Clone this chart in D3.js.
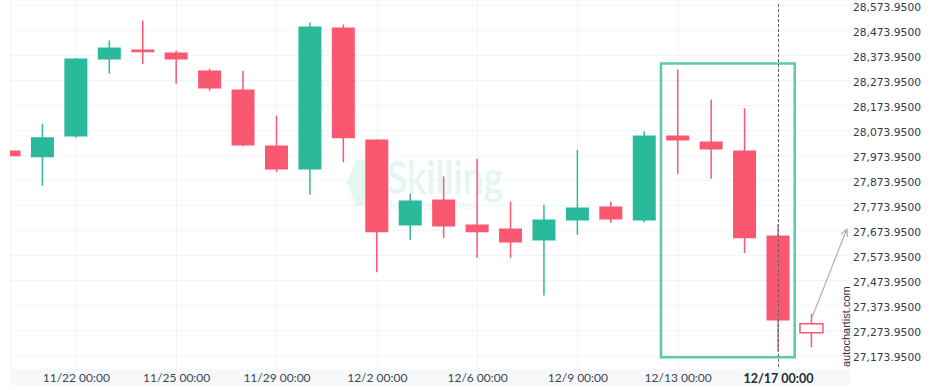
<!DOCTYPE html>
<html>
<head>
<meta charset="utf-8">
<style>
body { margin: 0; background: #fff; }
svg { display: block; }
.xaxis text { font-family: Lato, sans-serif; font-size: 12px; fill: #3b4655; }
.yaxis text { font-family: "DejaVu Sans", Verdana, sans-serif; font-size: 10.7px; fill: #2f3a45; }
.grid line { stroke: #f1f4f8; stroke-width: 1; }
</style>
</head>
<body>
<svg width="936" height="390"></svg>
<script src="https://d3js.org/d3.v7.min.js"></script>
<script>

// candle values, one per period (last one is the projected candle)
var opens  = [27991.95, 27965.00, 28047.95, 28355.95, 28395.95, 28383.95, 28311.95, 28235.95, 28011.95, 27915.95,
              28483.95, 28035.95, 27691.95, 27795.95, 27695.95, 27679.95, 27631.95, 27711.95, 27767.95, 27711.95,
              28051.95, 28027.95, 27991.95, 27651.95, 27298.75];
var highs  = [27991.95, 28098.75, 28361.95, 28431.95, 28511.95, 28391.95, 28319.95, 28310.75, 28131.95, 28503.95,
              28495.95, 28035.95, 27818.75, 27887.95, 27958.75, 27787.95, 27774.75, 27994.75, 27787.95, 28067.95,
              28315.95, 28195.95, 28161.00, 27695.95, 27338.75];
var lows   = [27969.00, 27850.75, 28043.00, 28298.75, 28338.75, 28258.75, 28230.75, 28009.00, 27905.00, 27814.75,
              27945.00, 27505.00, 27634.75, 27642.75, 27562.75, 27562.75, 27411.95, 27654.75, 27702.75, 27705.00,
              27898.75, 27878.75, 27581.00, 27189.00, 27205.00];
var closes = [27969.00, 28045.00, 28359.95, 28403.95, 28385.00, 28355.95, 28239.95, 28011.95, 27915.95, 28487.95,
              28041.00, 27665.00, 27791.95, 27687.95, 27665.00, 27623.95, 27715.95, 27763.95, 27715.95, 28051.95,
              28031.95, 27995.95, 27641.00, 27311.95, 27262.75];

var tickIndex  = [2, 5, 8, 11, 14, 17, 20, 23];
var tickLabels = ["11/22 00:00", "11/25 00:00", "11/29 00:00", "12/2 00:00", "12/6 00:00", "12/9 00:00", "12/13 00:00", "12/17 00:00"];

var yTicks = [27173.95, 27273.95, 27373.95, 27473.95, 27573.95, 27673.95, 27773.95, 27873.95,
              27973.95, 28073.95, 28173.95, 28273.95, 28373.95, 28473.95, 28573.95];

// pattern box (index span and price span), current bar, projection arrow
var boxIndex = [19.5, 23.5];
var boxPrice = [27165, 28340];
var currentIndex = 23;
var arrowIndex = [24, 25.06];
var arrowPrice = [27318, 27678];

var svg = d3.select("svg"),
    left = 10, right = 850, bottom = 369;

var x = d3.scaleLinear().domain([0, 23]).range([9, 778]);
var y = d3.scaleLinear().domain([27173.95, 28573.95]).range([355, 5]);

var green = "#2bb99b", red = "#fa5870";

svg.append("defs").append("clipPath").attr("id", "clip")
  .append("rect").attr("x", left).attr("y", 0).attr("width", right - left).attr("height", bottom);

// grid
var grid = svg.append("g").attr("class", "grid");
grid.selectAll(".h").data(yTicks).enter().append("line")
    .attr("x1", left).attr("x2", right)
    .attr("y1", function(d) { return Math.round(y(d)) + 0.5; })
    .attr("y2", function(d) { return Math.round(y(d)) + 0.5; });
grid.selectAll(".v").data(tickIndex).enter().append("line")
    .attr("y1", 0).attr("y2", bottom)
    .attr("x1", function(d) { return Math.round(x(d)) + 0.5; })
    .attr("x2", function(d) { return Math.round(x(d)) + 0.5; });
grid.append("line").attr("x1", left + 0.5).attr("x2", left + 0.5).attr("y1", 0).attr("y2", bottom);

// watermark
var wm = svg.append("g").attr("fill", "#e5f5f0");
wm.append("polygon").attr("points", "356,160 381,160 381,206 356,206 347,183");
wm.append("text").attr("x", 387).attr("y", 194)
    .attr("font-family", "Lato, sans-serif").attr("font-size", 46).attr("font-weight", 600)
    .attr("textLength", 116).attr("lengthAdjust", "spacingAndGlyphs").text("Skilling");
wm.append("text").attr("x", 388).attr("y", 209)
    .attr("font-family", "Lato, sans-serif").attr("font-size", 12)
    .attr("textLength", 93).text("Join. Trade. Grow.");

// x axis band
svg.append("rect").attr("x", left).attr("y", bottom).attr("width", right - left).attr("height", 16).attr("fill", "#f7f8fa");

var xAxis = svg.append("g").attr("class", "xaxis")
    .attr("transform", "translate(0," + bottom + ")")
    .call(d3.axisBottom(x).tickValues(tickIndex).tickSize(0).tickPadding(0)
      .tickFormat(function(d, i) { return tickLabels[i]; }));
xAxis.select(".domain").remove();
xAxis.selectAll("text").attr("dy", "0.95em").attr("y", 2);
xAxis.selectAll("text").filter(function(d) { return d === currentIndex; })
    .attr("font-weight", "bold").style("font-size", "12.5px").style("fill", "#1f2a36");

var yAxis = svg.append("g").attr("class", "yaxis")
    .attr("transform", "translate(" + right + ",1.8)")
    .call(d3.axisRight(y).tickValues(yTicks).tickSize(0).tickPadding(3).tickFormat(d3.format(",.4f")));
yAxis.select(".domain").remove();

// candles
var idx = d3.range(opens.length);
var bw = 23;
var candles = svg.append("g").attr("clip-path", "url(#clip)")
  .selectAll("g").data(idx).enter().append("g");

candles.append("line")
    .attr("x1", function(i) { return x(i); }).attr("x2", function(i) { return x(i); })
    .attr("y1", function(i) { return y(highs[i]); }).attr("y2", function(i) { return y(lows[i]); })
    .attr("stroke", function(i) { return closes[i] >= opens[i] ? green : red; })
    .attr("stroke-width", 1.5);

candles.append("rect")
    .attr("x", function(i) { return x(i) - bw / 2; })
    .attr("width", bw)
    .attr("y", function(i) { return y(Math.max(opens[i], closes[i])); })
    .attr("height", function(i) { return Math.max(1, Math.abs(y(opens[i]) - y(closes[i]))); })
    .attr("fill", function(i) { return i === opens.length - 1 ? "#fff" : (closes[i] >= opens[i] ? green : red); })
    .attr("stroke", function(i) { return i === opens.length - 1 ? red : "none"; })
    .attr("stroke-width", 1.5);

// pattern box
svg.append("rect")
    .attr("x", x(boxIndex[0])).attr("y", y(boxPrice[1]))
    .attr("width", x(boxIndex[1]) - x(boxIndex[0]))
    .attr("height", y(boxPrice[0]) - y(boxPrice[1]))
    .attr("fill", "none").attr("stroke", "#5cc9b1").attr("stroke-width", 2.5);

// current time marker
svg.append("line")
    .attr("x1", Math.round(x(currentIndex)) + 0.5).attr("x2", Math.round(x(currentIndex)) + 0.5)
    .attr("y1", 4).attr("y2", bottom)
    .attr("stroke", "#666").attr("stroke-width", 1).attr("stroke-dasharray", "3,2");

// projection arrow
var ax1 = x(arrowIndex[0]), ay1 = y(arrowPrice[0]), ax2 = x(arrowIndex[1]), ay2 = y(arrowPrice[1]);
var ang = Math.atan2(ay2 - ay1, ax2 - ax1), hl = 8;
svg.append("path")
    .attr("d", "M" + ax1 + "," + ay1 + "L" + ax2 + "," + ay2 +
      "M" + (ax2 - hl * Math.cos(ang - 0.45)) + "," + (ay2 - hl * Math.sin(ang - 0.45)) +
      "L" + ax2 + "," + ay2 +
      "L" + (ax2 - hl * Math.cos(ang + 0.45)) + "," + (ay2 - hl * Math.sin(ang + 0.45)))
    .attr("fill", "none").attr("stroke", "#b0b0b0").attr("stroke-width", 1.2);

// attribution
svg.append("text")
    .attr("transform", "translate(850,367) rotate(-90)")
    .attr("font-family", "Liberation Sans, Arial, sans-serif").attr("font-size", 11)
    .attr("fill", "#333").text("autochartist.com");

</script>
</body>
</html>
